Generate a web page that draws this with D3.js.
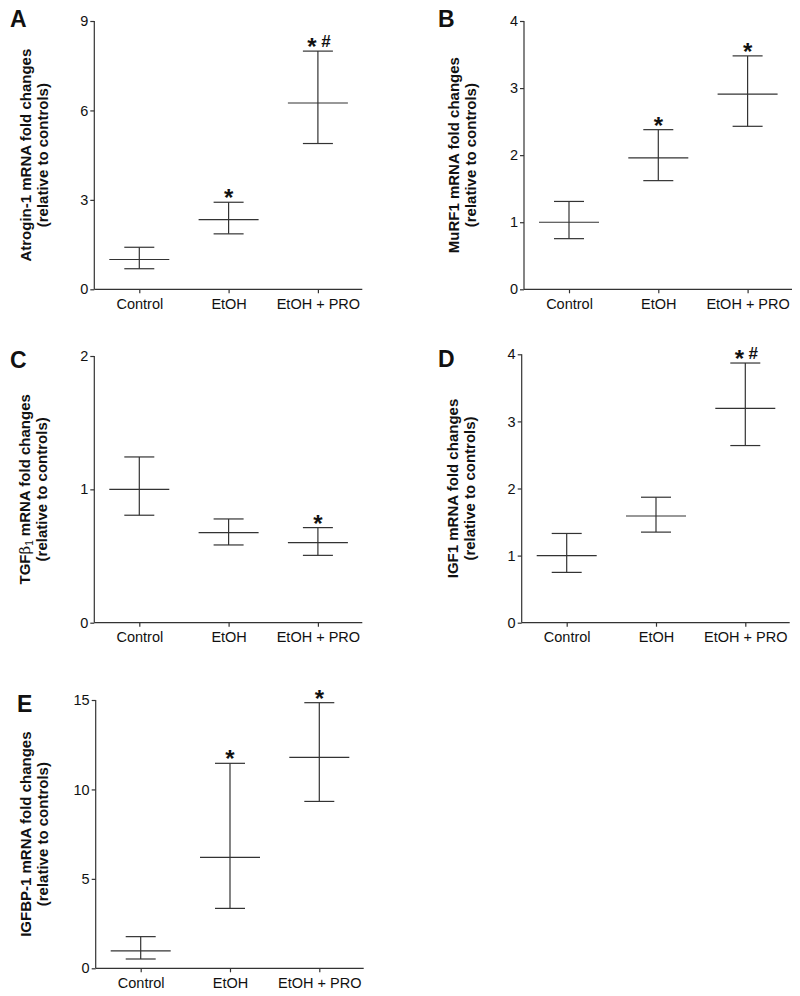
<!DOCTYPE html>
<html>
<head>
<meta charset="utf-8">
<script src="https://cdn.jsdelivr.net/npm/d3@7"></script>
<style>
  html, body { margin: 0; padding: 0; background: #fff; }
  svg { display: block; font-family: Arial, "Liberation Sans", Helvetica, sans-serif; }
</style>
</head>
<body>
<svg id="chart" width="800" height="996"></svg>
<script>
// ---------- DATA ----------
const categories = ["Control", "EtOH", "EtOH + PRO"];
const panelLetters = ["A", "B", "C", "D", "E"];

const atroginMean = [1.00, 2.34, 6.25];
const atroginLow  = [0.69, 1.86, 4.89];
const atroginHigh = [1.41, 2.92, 7.99];

const murf1Mean = [1.00, 1.96, 2.91];
const murf1Low  = [0.755, 1.62, 2.43];
const murf1High = [1.31, 2.38, 3.48];

const tgfMean = [1.00, 0.675, 0.60];
const tgfLow  = [0.806, 0.583, 0.505];
const tgfHigh = [1.243, 0.778, 0.713];

const igf1Mean = [1.00, 1.59, 3.195];
const igf1Low  = [0.75, 1.35, 2.64];
const igf1High = [1.33, 1.87, 3.87];

const igfbpMean = [0.97, 6.20, 11.79];
const igfbpLow  = [0.52, 3.35, 9.33];
const igfbpHigh = [1.77, 11.46, 14.85];

const yTicksA = [0, 3, 6, 9];
const yTicksB = [0, 1, 2, 3, 4];
const yTicksC = [0, 1, 2];
const yTicksD = [0, 1, 2, 3, 4];
const yTicksE = [0, 5, 10, 15];

const signifA = ["", "*", "*#"];
const signifB = ["", "*", "*"];
const signifC = ["", "", "*"];
const signifD = ["", "", "*#"];
const signifE = ["", "*", "*"];

const yLabelA = "Atrogin-1 mRNA fold changes";
const yLabelB = "MuRF1 mRNA fold changes";
const yLabelC = ["TGF", "β", "1", " mRNA fold changes"];
const yLabelD = "IGF1 mRNA fold changes";
const yLabelE = "IGFBP-1 mRNA fold changes";
const yLabelSub = "(relative to controls)";

// ---------- LAYOUT ----------
const panels = [
  { letter: panelLetters[0], mean: atroginMean, low: atroginLow, high: atroginHigh, ticks: yTicksA, signif: signifA, label: yLabelA,
    x0: 94.3, bottom: 289.3, top: 21, lx: 10, ly: 26.5, lab1: 30.5, lab2: 47.5 },
  { letter: panelLetters[1], mean: murf1Mean, low: murf1Low, high: murf1High, ticks: yTicksB, signif: signifB, label: yLabelB,
    x0: 524, bottom: 289.3, top: 21, lx: 438, ly: 26.5, lab1: 458.5, lab2: 475.5 },
  { letter: panelLetters[2], mean: tgfMean, low: tgfLow, high: tgfHigh, ticks: yTicksC, signif: signifC, label: yLabelC,
    x0: 94.3, bottom: 622.7, top: 356, lx: 10, ly: 368, lab1: 30, lab2: 47 },
  { letter: panelLetters[3], mean: igf1Mean, low: igf1Low, high: igf1High, ticks: yTicksD, signif: signifD, label: yLabelD,
    x0: 521.7, bottom: 622.7, top: 354.3, lx: 438, ly: 367, lab1: 457.5, lab2: 474.5 },
  { letter: panelLetters[4], mean: igfbpMean, low: igfbpLow, high: igfbpHigh, ticks: yTicksE, signif: signifE, label: yLabelE,
    x0: 95.7, bottom: 968.3, top: 700, lx: 17, ly: 712, lab1: 30.5, lab2: 47.5 }
];

const axisColor = "#333";
const ink = "#111";
const W = 268;
const FONT = 'Arial, "Liberation Sans", Helvetica, sans-serif';

const svg = d3.select("#chart");

panels.forEach(p => {
  const g = svg.append("g");
  const yMax = p.ticks[p.ticks.length - 1];
  const y = d3.scaleLinear().domain([0, yMax]).range([p.bottom, p.top]);
  const x = d3.scalePoint().domain(categories).range([p.x0 + 45, p.x0 + 223.6]);

  // y axis
  const yAxis = d3.axisLeft(y).tickValues(p.ticks).tickFormat(d3.format("d")).tickSize(4).tickSizeOuter(0).tickPadding(2);
  const ya = g.append("g").attr("transform", `translate(${p.x0},0)`).call(yAxis);
  ya.select(".domain").remove();
  ya.selectAll(".tick line").attr("stroke", axisColor).attr("stroke-width", 1.2);
  ya.selectAll(".tick text").attr("fill", ink).style("font-size", "14.5px").style("font-family", FONT);
  g.append("line").attr("x1", p.x0).attr("x2", p.x0).attr("y1", p.top).attr("y2", p.bottom)
    .attr("stroke", axisColor).attr("stroke-width", 1.2);

  // x axis
  const xAxis = d3.axisBottom(x).tickSize(4).tickSizeOuter(0).tickPadding(5);
  const xa = g.append("g").attr("transform", `translate(0,${p.bottom})`).call(xAxis);
  xa.select(".domain").remove();
  xa.selectAll(".tick line").attr("stroke", axisColor).attr("stroke-width", 1.2);
  xa.selectAll(".tick text").attr("fill", ink).style("font-size", "14.5px").style("font-family", FONT);
  g.append("line").attr("x1", p.x0).attr("x2", p.x0 + W).attr("y1", p.bottom).attr("y2", p.bottom)
    .attr("stroke", axisColor).attr("stroke-width", 1.2);

  // error bars
  const rows = categories.map((c, i) => ({ c, m: p.mean[i], lo: p.low[i], hi: p.high[i], s: p.signif[i] }));
  const eb = g.append("g").attr("stroke", axisColor).attr("stroke-width", 1.2);
  rows.forEach(r => {
    const cx = x(r.c);
    eb.append("line").attr("x1", cx).attr("x2", cx).attr("y1", y(r.lo)).attr("y2", y(r.hi));
    eb.append("line").attr("x1", cx - 15).attr("x2", cx + 15).attr("y1", y(r.lo)).attr("y2", y(r.lo));
    eb.append("line").attr("x1", cx - 15).attr("x2", cx + 15).attr("y1", y(r.hi)).attr("y2", y(r.hi));
    eb.append("line").attr("x1", cx - 30).attr("x2", cx + 30).attr("y1", y(r.m)).attr("y2", y(r.m));
  });

  // significance marks
  rows.forEach(r => {
    if (!r.s) return;
    const cx = x(r.c);
    const capY = y(r.hi);
    const centerY = capY - 9.5;
    const hasHash = r.s.indexOf("#") >= 0;
    const starX = hasHash ? cx - 6 : cx;
    g.append("text").attr("x", starX).attr("y", centerY + 0.57 * 24)
      .attr("text-anchor", "middle").attr("fill", ink)
      .style("font-size", "24px").style("font-weight", "bold").text("*");
    if (hasHash) {
      g.append("text").attr("x", cx + 8).attr("y", capY - 4)
        .attr("text-anchor", "middle").attr("fill", ink)
        .style("font-size", "17px").style("font-weight", "bold").text("#");
    }
  });

  // panel letter
  svg.append("text").attr("x", p.lx).attr("y", p.ly).attr("fill", ink)
    .style("font-size", "23px").style("font-weight", "bold").text(p.letter);

  // y label
  const cy = (p.top + p.bottom) / 2;
  const t1 = svg.append("text").attr("transform", `translate(${p.lab1},${cy}) rotate(-90)`)
    .attr("text-anchor", "middle").attr("fill", ink)
    .style("font-size", "15px").style("font-weight", "bold");
  if (Array.isArray(p.label)) {
    t1.append("tspan").text(p.label[0]);
    t1.append("tspan").style("font-family", '"DejaVu Serif", serif').style("font-weight", "normal").text(p.label[1]);
    t1.append("tspan").attr("dy", 3).style("font-size", "10px").style("font-weight", "normal").text(p.label[2]);
    t1.append("tspan").attr("dy", -3).text(p.label[3]);
  } else {
    t1.text(p.label);
  }
  svg.append("text").attr("transform", `translate(${p.lab2},${cy}) rotate(-90)`)
    .attr("text-anchor", "middle").attr("fill", ink)
    .style("font-size", "15px").style("font-weight", "bold").text(yLabelSub);
});
</script>
</body>
</html>
